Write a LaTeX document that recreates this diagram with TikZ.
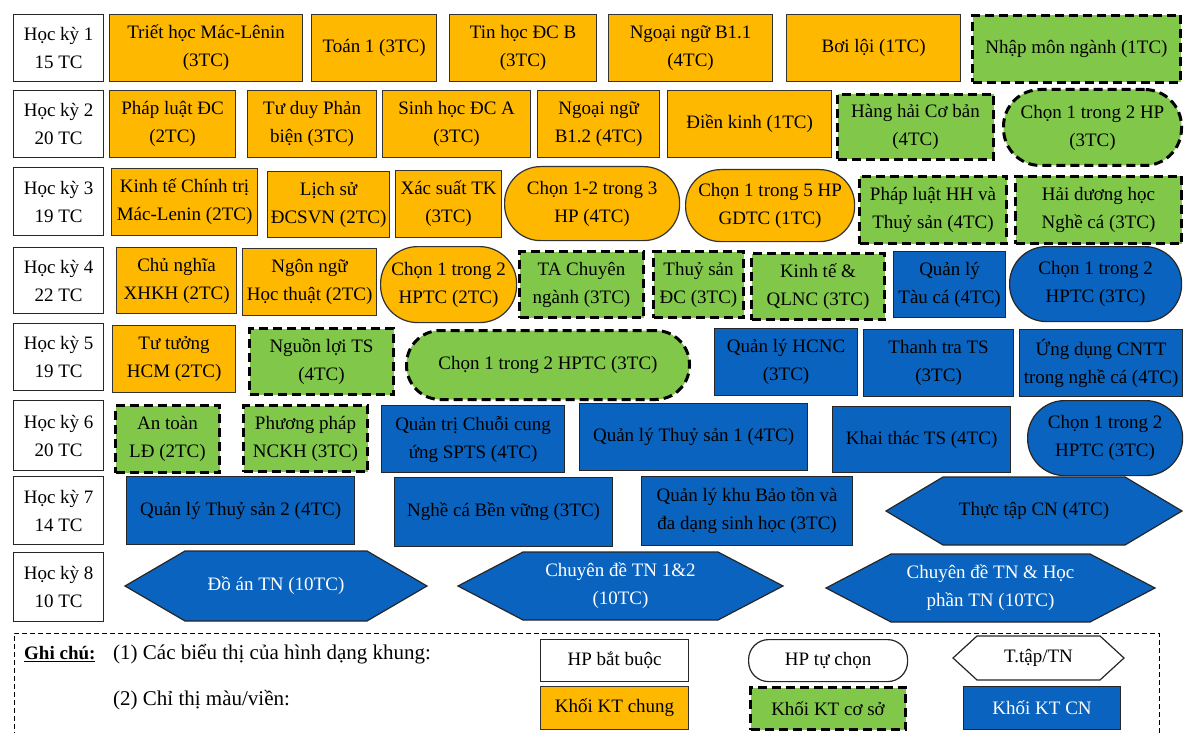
\documentclass[tikz,border=0pt]{standalone}
\usepackage{fontspec}
\setmainfont{Liberation Serif}
\definecolor{kor}{HTML}{FFB800}
\definecolor{kgr}{HTML}{80C74A}
\definecolor{kbl}{HTML}{0A63BE}
\tikzset{
  base/.style={inner sep=0pt, align=center, font=\fontsize{19}{28}\selectfont, text=black},
  lbl/.style={base, draw=black!85, line width=1.3pt, fill=white},
  gen/.style={base, draw=black!80, line width=1.2pt, fill=kor},
  fnd/.style={base, draw=black, line width=3pt, dash pattern=on 9pt off 5pt, fill=kgr},
  spc/.style={base, draw=black!85, line width=1.2pt, fill=kbl},
  hexs/.style={draw=black!85, line width=1.2pt, fill=kbl},
  hexw/.style={draw=black!85, line width=1.2pt, fill=white},
  htxt/.style={base, text=black},
  htxtw/.style={base, text=white},
  legtxt/.style={base, anchor=west, font=\fontsize{21}{28}\selectfont},
}
% style, name, x1, y1, x2, y2, text
\newcommand\kbox[7]{%
  \node[#1, anchor=north west, minimum width={#5pt-#3pt}, minimum height={#6pt-#4pt}] (#2) at (#3,#4) {#7};}
% path style, text style, name, xleft, inset, xright, ytop, ybottom, text
\newcommand\khex[9]{%
  \draw[#1] (#4,{(#7+#8)/2}) -- ({#4+#5},#7) -- ({#6-#5},#7) -- (#6,{(#7+#8)/2}) -- ({#6-#5},#8) -- ({#4+#5},#8) -- cycle;
  \node[#2] (#3) at ({(#4+#6)/2},{(#7+#8)/2}) {#9};}
\begin{document}
\begin{tikzpicture}[x=1pt,y=-1pt]
\useasboundingbox (0,0) rectangle (1184,733);
% ---- semester labels
\kbox{lbl}{s1}{13}{14}{103}{81}{Học kỳ 1\\15 TC}
\kbox{lbl}{s2}{13}{90}{103}{157}{Học kỳ 2\\20 TC}
\kbox{lbl}{s3}{13}{167}{103}{235}{Học kỳ 3\\19 TC}
\kbox{lbl}{s4}{13}{247}{103}{313}{Học kỳ 4\\22 TC}
\kbox{lbl}{s5}{13}{323}{103}{390}{Học kỳ 5\\19 TC}
\kbox{lbl}{s6}{13}{400}{103}{470}{Học kỳ 6\\20 TC}
\kbox{lbl}{s7}{13}{476}{103}{544}{Học kỳ 7\\14 TC}
\kbox{lbl}{s8}{13}{552}{103}{621}{Học kỳ 8\\10 TC}
% ---- row 1
\kbox{gen}{a1}{109}{14}{302}{81}{Triết học Mác-Lênin\\(3TC)}
\kbox{gen}{a2}{311}{14}{436}{81}{Toán 1 (3TC)}
\kbox{gen}{a3}{449}{14}{596}{81}{Tin học ĐC B\\(3TC)}
\kbox{gen}{a4}{608}{14}{772}{81}{Ngoại ngữ B1.1\\(4TC)}
\kbox{gen}{a5}{786}{14}{960}{81}{Bơi lội (1TC)}
\kbox{fnd}{a6}{971}{14}{1179}{81}{Nhập môn ngành (1TC)}
% ---- row 2
\kbox{gen}{b1}{109}{90}{235}{157}{Pháp luật ĐC\\(2TC)}
\kbox{gen}{b2}{247}{90}{376}{157}{Tư duy Phản\\biện (3TC)}
\kbox{gen}{b3}{382}{90}{530}{157}{Sinh học ĐC A\\(3TC)}
\kbox{gen}{b4}{537}{90}{659}{157}{Ngoại ngữ\\B1.2 (4TC)}
\kbox{gen}{b5}{667}{90}{831}{157}{Điền kinh (1TC)}
\kbox{fnd}{b6}{836}{93}{992}{158}{Hàng hải Cơ bản\\(4TC)}
\kbox{fnd, rounded corners=37pt}{b7}{1002}{88}{1180}{164}{Chọn 1 trong 2 HP\\(3TC)}
% ---- row 3
\kbox{gen}{c1}{111}{168}{257}{235}{Kinh tế Chính trị\\Mác-Lenin (2TC)}
\kbox{gen}{c2}{267}{171}{389}{237}{Lịch sử\\ĐCSVN (2TC)}
\kbox{gen}{c3}{395}{170}{501}{237}{Xác suất TK\\(3TC)}
\kbox{gen, rounded corners=36pt}{c4}{504}{166}{679}{240}{Chọn 1-2 trong 3\\HP (4TC)}
\kbox{gen, rounded corners=35pt}{c5}{685}{169}{854}{241}{Chọn 1 trong 5 HP\\GDTC (1TC)}
\kbox{fnd}{c6}{858}{175}{1005}{242}{Pháp luật HH và\\Thuỷ sản (4TC)}
\kbox{fnd}{c7}{1014}{175}{1180}{242}{Hải dương học\\Nghề cá (3TC)}
% ---- row 4
\kbox{gen}{d1}{116}{247}{236}{313}{Chủ nghĩa\\XHKH (2TC)}
\kbox{gen}{d2}{242}{248}{376}{315}{Ngôn ngữ\\Học thuật (2TC)}
\kbox{gen, rounded corners=37pt}{d3}{380}{246}{516}{322}{Chọn 1 trong 2\\HPTC (2TC)}
\kbox{fnd}{d4}{518}{250}{642}{316}{TA Chuyên\\ngành (3TC)}
\kbox{fnd}{d5}{652}{250}{742}{316}{Thuỷ sản\\ĐC (3TC)}
\kbox{fnd}{d6}{750}{252}{883}{318}{Kinh tế \&\\QLNC (3TC)}
\kbox{spc}{d7}{893}{251}{1005}{317}{Quản lý\\Tàu cá (4TC)}
\kbox{spc, rounded corners=37pt}{d8}{1009}{246}{1181}{321}{Chọn 1 trong 2\\HPTC (3TC)}
% ---- row 5
\kbox{gen}{e1}{112}{325}{235}{392}{Tư tưởng\\HCM (2TC)}
\kbox{fnd}{e2}{248}{327}{392}{393}{Nguồn lợi TS\\(4TC)}
\kbox{fnd, rounded corners=34pt}{e3}{405}{329}{688}{398}{Chọn 1 trong 2 HPTC (3TC)}
\kbox{spc}{e4}{714}{328}{857}{395}{Quản lý HCNC\\(3TC)}
\kbox{spc}{e5}{863}{329}{1013}{396}{Thanh tra TS\\(3TC)}
\kbox{spc}{e6}{1019}{329}{1182}{396}{Ứng dụng CNTT\\trong nghề cá (4TC)}
% ---- row 6
\kbox{fnd}{f1}{114}{404}{218}{471}{An toàn\\LĐ (2TC)}
\kbox{fnd}{f2}{242}{404}{366}{470}{Phương pháp\\NCKH (3TC)}
\kbox{spc}{f3}{381}{405}{564}{472}{Quản trị Chuỗi cung\\ứng SPTS (4TC)}
\kbox{spc}{f4}{579}{403}{807}{470}{Quản lý Thuỷ sản 1 (4TC)}
\kbox{spc}{f5}{832}{406}{1010}{472}{Khai thác TS (4TC)}
\kbox{spc, rounded corners=37pt}{f6}{1027}{400}{1182}{475}{Chọn 1 trong 2\\HPTC (3TC)}
% ---- row 7
\kbox{spc}{g1}{126}{476}{354}{544}{Quản lý Thuỷ sản 2 (4TC)}
\kbox{spc}{g2}{394}{477}{612}{546}{Nghề cá Bền vững (3TC)}
\kbox{spc}{g3}{641}{476}{852}{545}{Quản lý khu Bảo tồn và\\đa dạng sinh học (3TC)}
\khex{hexs}{htxt}{g4}{886}{57}{1182}{477}{545}{Thực tập CN (4TC)}
% ---- row 8
\khex{hexs}{htxtw}{h1}{125}{60}{427}{551}{621}{Đồ án TN (10TC)}
\khex{hexs}{htxtw}{h2}{458}{65}{783}{552}{620}{Chuyên đề TN 1\&2\\(10TC)}
\khex{hexs}{htxtw}{h3}{826}{65}{1155}{554}{622}{Chuyên đề TN \& Học\\phần TN (10TC)}
% ---- legend
\draw[black, line width=1pt, dash pattern=on 5pt off 3pt] (14,745) -- (14,633) -- (1159,633) -- (1159,745);
\node[base, anchor=west] (gc) at (24,654) {\underline{\textbf{Ghi chú:}}};
\node[legtxt] (l1) at (113,654) {(1) Các biểu thị của hình dạng khung:};
\node[legtxt] (l2) at (113,700) {(2) Chỉ thị màu/viền:};
\kbox{lbl, line width=1.2pt}{k1}{540}{639}{688}{681}{HP bắt buộc}
\kbox{lbl, line width=1.2pt, rounded corners=20pt}{k2}{748}{639}{907}{681}{HP tự chọn}
\khex{hexw}{htxt}{k3}{953}{24}{1124}{636}{680}{T.tập/TN}
\kbox{gen}{k4}{540}{686}{688}{729}{Khối KT chung}
\kbox{fnd}{k5}{749}{686}{904}{728}{Khối KT cơ sở}
\kbox{spc, text=white}{k6}{963}{686}{1120}{729}{Khối KT CN}
\end{tikzpicture}
\end{document}
